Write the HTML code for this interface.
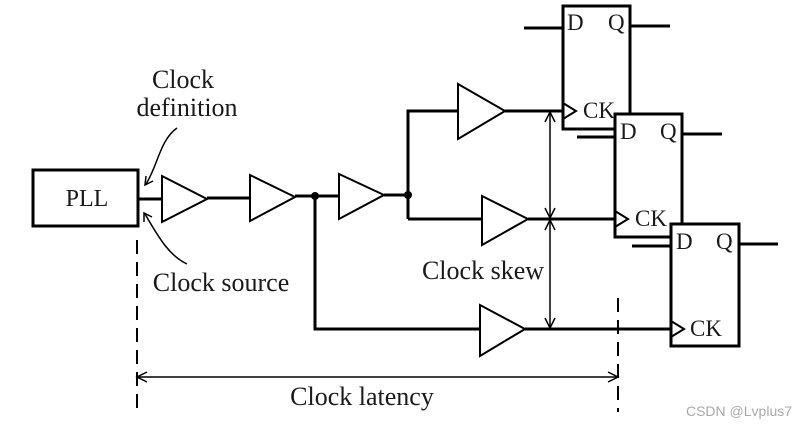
<!DOCTYPE html>
<html><head><meta charset="utf-8"><style>
html,body{margin:0;padding:0;background:#fff;}
svg{display:block;}
text{font-family:"Liberation Serif",serif;fill:#1a1a1a;}
</style></head><body>
<svg width="799" height="425" viewBox="0 0 799 425" xmlns="http://www.w3.org/2000/svg">
<g stroke="#000" stroke-width="3" fill="none">
<rect x="33" y="170" width="105" height="56" fill="#fff"/>
<line x1="138" y1="199" x2="162" y2="199"/>
<polygon points="162,176 207,199 162,222" stroke-width="2"/>
<line x1="207" y1="198" x2="250" y2="198"/>
<polygon points="250,175 295,197 250,221" stroke-width="2"/>
<line x1="295" y1="196" x2="339" y2="196"/>
<polygon points="339,174 384,195 339,219" stroke-width="2"/>
<line x1="384" y1="195" x2="408" y2="195"/>
<polyline points="408,219 408,111 458,111"/>
<polygon points="458,84 505,111 458,139" stroke-width="2"/>
<line x1="505" y1="111" x2="563" y2="111"/>
<line x1="408" y1="219" x2="482" y2="219"/>
<polygon points="482,196 528,219 482,245" stroke-width="2"/>
<line x1="528" y1="219" x2="615" y2="219"/>
<polyline points="315,196 315,329 480,329"/>
<polygon points="480,305 525,329 480,356" stroke-width="2"/>
<line x1="525" y1="329" x2="671" y2="329"/>
<rect x="563" y="6" width="67" height="123" fill="#fff"/>
<line x1="524" y1="28" x2="563" y2="28"/>
<line x1="630" y1="26" x2="670" y2="26"/>
<polyline points="563,103 576,111 563,119" stroke-width="2"/>
<line x1="577" y1="137" x2="615" y2="137"/>
<rect x="615" y="114" width="67" height="123" fill="#fff"/>
<line x1="682" y1="134" x2="722" y2="134"/>
<polyline points="615,211 628,219 615,227" stroke-width="2"/>
<line x1="632" y1="246" x2="671" y2="246"/>
<rect x="671" y="224" width="68" height="122" fill="#fff"/>
<line x1="739" y1="244" x2="778" y2="244"/>
<polyline points="671,321 684,329 671,337" stroke-width="2"/>
</g>
<circle cx="315" cy="196" r="4" fill="#000"/>
<circle cx="408" cy="195" r="4" fill="#000"/>
<g stroke="#000" stroke-width="1.5" fill="none">
<line x1="550" y1="112" x2="550" y2="218"/>
<polyline points="545,122 550,112 555,122"/>
<polyline points="545,208 550,218 555,208"/>
<line x1="550" y1="220" x2="550" y2="328"/>
<polyline points="545,230 550,220 555,230"/>
<polyline points="545,318 550,328 555,318"/>
<line x1="137" y1="377" x2="618" y2="377"/>
<polyline points="147,372 137,377 147,382"/>
<polyline points="608,372 618,377 608,382"/>
<path d="M177,128 C160,140 158,165 146,184"/>
<polyline points="146,176 145,185 153,181"/>
<path d="M187,264 C170,256 160,240 145,214"/>
<polyline points="144,222 144,213 152,217"/>
</g>
<g stroke="#000" stroke-width="2" stroke-dasharray="14,8">
<line x1="137" y1="240" x2="137" y2="412"/>
<line x1="618" y1="298" x2="618" y2="412"/>
</g>
<line x1="228" y1="198" x2="232" y2="198" stroke="#000" stroke-width="2"/>
<g font-size="26">
<text x="183" y="88" text-anchor="middle">Clock</text>
<text x="187" y="116" text-anchor="middle">definition</text>
<text x="221" y="291" text-anchor="middle">Clock source</text>
<text x="483" y="279" text-anchor="middle">Clock skew</text>
<text x="362" y="405" text-anchor="middle">Clock latency</text>
</g>
<g font-size="23">
<text x="87" y="206" text-anchor="middle" font-size="24">PLL</text>
<text x="567" y="30">D</text><text x="608" y="30">Q</text>
<text x="583" y="118">CK</text>
<text x="620" y="139">D</text><text x="660" y="139">Q</text>
<text x="635" y="226">CK</text>
<text x="676" y="249">D</text><text x="716" y="249">Q</text>
<text x="690" y="336">CK</text>
</g>
<text x="739" y="416" font-size="14" text-anchor="middle" style="font-family:'Liberation Sans',sans-serif;fill:#aaa">CSDN @Lvplus7</text>
</svg>
</body></html>
